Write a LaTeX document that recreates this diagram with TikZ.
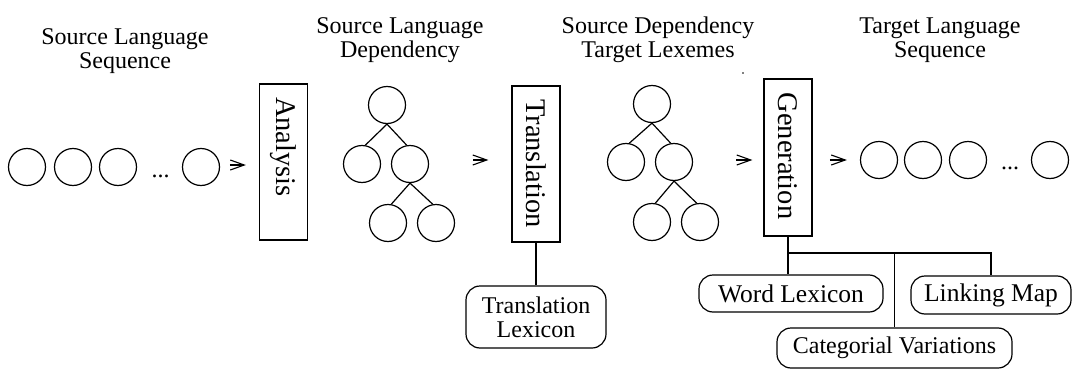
\documentclass[tikz,border=0pt]{standalone}
\usepackage{fontspec}
\setmainfont{Liberation Serif}
\usepackage{tikz}
\usetikzlibrary{shapes,arrows,arrows.meta}
\usetikzlibrary{positioning}
\newcommand{\headfont}{\fontsize{24}{24.5}\selectfont}
\newcommand{\stagefont}{\fontsize{28.5}{30}\selectfont}
\newcommand{\lexfont}{\fontsize{24}{24}\selectfont}
\newcommand{\biglexfont}{\fontsize{25.5}{27}\selectfont}
\tikzstyle{arrow} = [-{Straight Barb[length=14pt,width=10pt]}, line width=1.1pt]
\tikzstyle{line} = [draw, line width=1.2pt]
\tikzstyle{stage} = [rectangle, draw, line width=1.2pt, minimum width=48pt,
   minimum height=156pt, inner sep=0pt]
\tikzstyle{stagetext} = [rotate=-90, font=\stagefont, inner sep=0pt]
\tikzstyle{word} = [circle, draw, line width=1.2pt, minimum size=37pt, inner sep=0pt]
\tikzstyle{lexicon} = [rectangle, draw, rounded corners=14pt, line width=1.2pt,
   align=center, inner sep=0pt, font=\lexfont]
\tikzstyle{head} = [align=center, font=\headfont, inner sep=0pt]

\begin{document}
\begin{tikzpicture}[x=1pt, y=-1pt]
\useasboundingbox (0,0) rectangle (1073,369);

% headings
\node (hsrc) [head] at (125,51) {Source Language\\ Sequence};
\node (hdep) [head] at (400,40) {Source Language\\ Dependency};
\node (hlex) [head] at (658,40) {Source Dependency\\ Target Lexemes};
\node (htgt) [head] at (940,40) {Target Language\\ Sequence};
\fill (743,73) circle (0.8);

% source sequence
\node (sq1) [word] at (27,167) {};
\node (sq2) [word] at (73,167) {};
\node (sq3) [word] at (118,167) {};
\node (sqdots) [font=\headfont, anchor=base] at (160.5,177) {...};
\node (sq4) [word] at (201,167) {};

% analysis
\node (ana) [stage] at (283.5,162) {};
\node (anatxt) [stagetext] at (283.5,147) {Analysis};
\draw [arrow] ([xshift=-29pt,yshift=-3pt]ana.west) -- ([xshift=-13pt,yshift=-3pt]ana.west);

% source dependency tree
\node (dep) [word] at (387,105) {};
\node (depl) [word] at (362,164) {};
\node (depr) [word] at (410,164) {};
\node (deprl) [word] at (388,223) {};
\node (deprr) [word] at (436,223) {};
\draw [line] (dep.south) -- (depl.80);
\draw [line] (dep.south) -- (depr.100);
\draw [line] (depr.south) -- (deprl.80);
\draw [line] (depr.south) -- (deprr.100);

% translation
\node (trans) [stage] at (536,164) {};
\node (transtxt) [stagetext] at (536,163.5) {Translation};
\draw [arrow] ([xshift=-38pt,yshift=4pt]trans.west) -- ([xshift=-23pt,yshift=4pt]trans.west);
\node (tlex) [lexicon, minimum width=140pt, minimum height=62pt] at (536,317) {Translation\\ Lexicon};
\draw [line] (trans) -- (tlex);

% dependency tree with target lexemes
\node (tlx) [word] at (652,104) {};
\node (tlxl) [word] at (626,162) {};
\node (tlxr) [word] at (674,162) {};
\node (tlxrl) [word] at (652,222) {};
\node (tlxrr) [word] at (700,222) {};
\draw [line] (tlx.south) -- (tlxl.80);
\draw [line] (tlx.south) -- (tlxr.100);
\draw [line] (tlxr.south) -- (tlxrl.80);
\draw [line] (tlxr.south) -- (tlxrr.100);

% generation
\node (gen) [stage, minimum height=157pt] at (788,157.5) {};
\node (gentxt) [stagetext] at (788,156) {Generation};
\draw [arrow] ([xshift=-27pt,yshift=-2.5pt]gen.west) -- ([xshift=-11pt,yshift=-2.5pt]gen.west);

\node (wlex) [lexicon, font=\biglexfont, minimum width=184pt, minimum height=37pt] at (791,293.5) {Word Lexicon};
\node (lmap) [lexicon, font=\biglexfont, minimum width=160pt, minimum height=38pt] at (991,295) {Linking Map};
\node (cvar) [lexicon, minimum width=235pt, minimum height=40pt] at (894.5,348) {Categorial Variations};
\coordinate (gbus) at (788,253);
\draw [line] (gen.south) -- (gen.south |- wlex.north);
\draw [line] (gbus) -| (lmap.north);
\draw [line] (gbus -| cvar.north) -- (cvar.north);

% target sequence
\node (tq1) [word] at (879,160) {};
\node (tq2) [word] at (923,160) {};
\node (tq3) [word] at (968,160) {};
\node (tqdots) [font=\headfont, anchor=base] at (1010,169) {...};
\node (tq4) [word] at (1050,160) {};
\draw [arrow] ([xshift=-30pt]tq1.west) -- ([xshift=-13pt]tq1.west);

\end{tikzpicture}
\end{document}
